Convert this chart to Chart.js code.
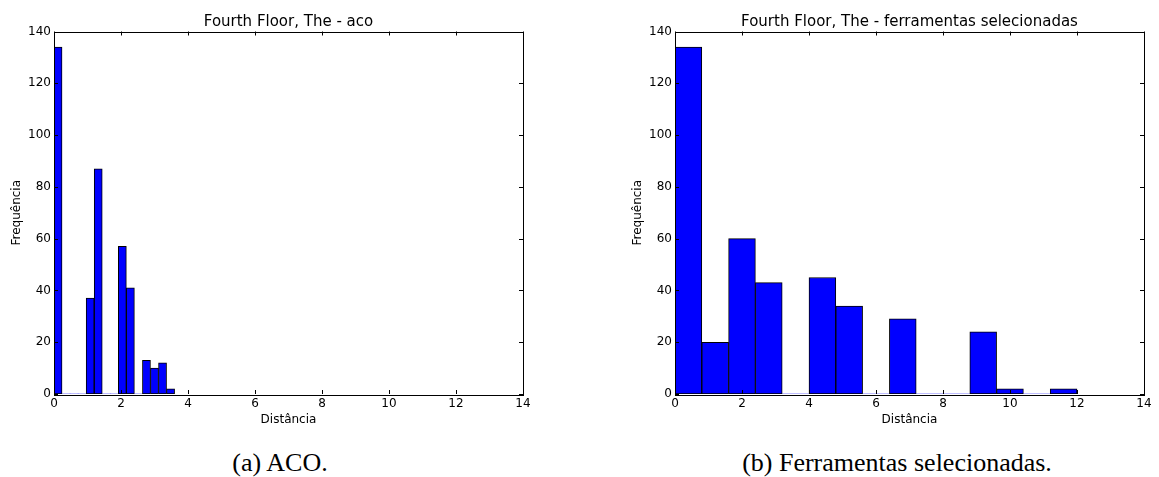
<!DOCTYPE html>
<html lang="pt">
<head>
<meta charset="UTF-8">
<title>Fourth Floor, The</title>
<script src="https://cdn.jsdelivr.net/npm/chart.js"></script>
<style>
  body { margin: 0; width: 1159px; height: 477px; background: #fff; position: relative; overflow: hidden; }
  canvas { position: absolute; top: 0; }
  #chartA { left: 0; }
  #chartB { left: 621px; }
  .caption {
    position: absolute; top: 450px; line-height: 26px;
    font-family: "Liberation Serif", serif; font-size: 26px; color: #000;
    white-space: nowrap; transform: translateX(-50%);
  }
</style>
</head>
<body>
<canvas id="chartA" width="560" height="430"></canvas>
<canvas id="chartB" width="538" height="430"></canvas>
<div class="caption" style="left:280px">(a) ACO.</div>
<div class="caption" style="left:897px">(b) Ferramentas selecionadas.</div>

<script>
// histogram (a): ACO, bin starts and counts
const acoBinWidth = 0.24;
const acoBins = [0, 0.24, 0.48, 0.72, 0.96, 1.2, 1.44, 1.68, 1.92, 2.16, 2.4, 2.64, 2.88, 3.12, 3.36];
const acoCounts = [134, 0, 0, 0, 37, 87, 0, 0, 57, 41, 0, 13, 10, 12, 2];

// histogram (b): ferramentas selecionadas
const selBinWidth = 0.8;
const selBins = [0, 0.8, 1.6, 2.4, 3.2, 4.0, 4.8, 5.6, 6.4, 7.2, 8.0, 8.8, 9.6, 10.4, 11.2];
const selCounts = [134, 20, 60, 43, 0, 45, 34, 0, 29, 0, 0, 24, 2, 0, 2];

const xTicks = [0, 2, 4, 6, 8, 10, 12, 14];
const yTicks = [0, 20, 40, 60, 80, 100, 120, 140];

Chart.defaults.font.family = 'DejaVu Sans';
Chart.defaults.color = '#000';

// matplotlib-like frame with inward ticks on all four sides
const framePlugin = {
  id: 'frame',
  afterDraw(chart) {
    const {ctx, chartArea: a, scales} = chart;
    ctx.save();
    ctx.strokeStyle = '#000';
    ctx.lineWidth = 1;
    ctx.beginPath();
    xTicks.forEach(v => {
      const px = Math.round(scales.x.getPixelForValue(v)) + 0.5;
      ctx.moveTo(px, a.bottom); ctx.lineTo(px, a.bottom - 4);
      ctx.moveTo(px, a.top); ctx.lineTo(px, a.top + 4);
    });
    yTicks.forEach(v => {
      const py = Math.round(scales.y.getPixelForValue(v)) + 0.5;
      ctx.moveTo(a.left, py); ctx.lineTo(a.left + 4, py);
      ctx.moveTo(a.right, py); ctx.lineTo(a.right - 4, py);
    });
    ctx.stroke();
    ctx.strokeRect(Math.round(a.left) + 0.5, Math.round(a.top) + 0.5,
      Math.round(a.right - a.left), Math.round(a.bottom - a.top));
    ctx.restore();
  }
};

function makeHist(id, title, bins, width, counts, rightPad) {
  const points = bins.map((b, i) => ({x: b + width / 2, y: counts[i]}));
  return new Chart(document.getElementById(id), {
    type: 'bar',
    data: {
      datasets: [{
        data: points,
        backgroundColor: '#0000ff',
        borderColor: '#000',
        borderWidth: c => (c.raw && c.raw.y > 0 ? 1 : 0),
        borderSkipped: false,
        barPercentage: 1,
        categoryPercentage: 1
      }]
    },
    options: {
      responsive: false,
      animation: false,
      layout: {padding: {left: 0, right: rightPad, top: 0, bottom: 0}},
      plugins: {
        legend: {display: false},
        tooltip: {enabled: false},
        title: {
          display: true, text: title, fullSize: false,
          font: {size: 15, weight: 'normal'},
          padding: {top: 13.5, bottom: 0}
        }
      },
      scales: {
        x: {
          type: 'linear', offset: false, min: 0, max: 14,
          grid: {display: false, drawTicks: false},
          border: {display: false},
          afterBuildTicks: s => { s.ticks = xTicks.map(v => ({value: v})); },
          afterFit: s => { s.height = 36; },
          ticks: {padding: 3, font: {size: 12}},
          title: {display: true, text: 'Distância', font: {size: 12}, padding: {top: 0, bottom: 3}}
        },
        y: {
          min: 0, max: 140,
          grid: {display: false, drawTicks: false},
          border: {display: false},
          afterBuildTicks: s => { s.ticks = yTicks.map(v => ({value: v})); },
          afterFit: s => { s.width = 54; },
          ticks: {padding: 3, font: {size: 12}},
          title: {display: true, text: 'Frequência', font: {size: 12}, padding: {top: 10, bottom: 0}}
        }
      }
    },
    plugins: [framePlugin]
  });
}

makeHist('chartA', 'Fourth Floor, The - aco', acoBins, acoBinWidth, acoCounts, 37);
makeHist('chartB', 'Fourth Floor, The - ferramentas selecionadas', selBins, selBinWidth, selCounts, 15);
</script>
</body>
</html>
